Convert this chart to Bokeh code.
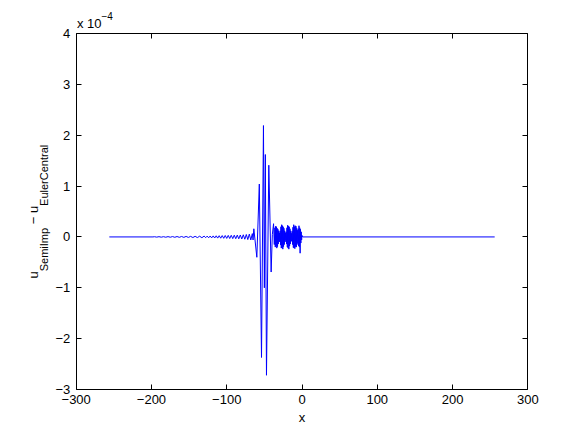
from bokeh.plotting import figure
from bokeh.models import Range1d, FixedTicker, LinearAxis, Label
from bokeh.embed import file_html
from bokeh.resources import INLINE
import math

# ---- data (y in units of 1e-4) ----
flat_left_x = [-256.0, -198.0]
flat_left_y = [0.0, 0.0]

ripple_far_x = [-196, -193, -190, -187, -184, -181, -178, -175, -172, -169, -166, -163,
                -160, -157, -154, -151, -148, -145, -142, -139, -136, -133, -130]
ripple_far_y = [0.004, -0.004, 0.005, -0.005, 0.005, -0.006, 0.006, -0.006, 0.007, -0.007,
                0.008, -0.008, 0.009, -0.009, 0.010, -0.010, 0.011, -0.012, 0.012, -0.013,
                0.014, -0.015, 0.016]

ripple_near_x = [-128, -126, -124, -122, -120, -118, -116, -114, -112, -110, -108, -106,
                 -104, -102, -100, -98, -96, -94, -92, -90, -88, -86, -84, -82, -80, -78,
                 -76, -74, -72, -70, -68, -66]
ripple_near_y = [-0.015, 0.016, -0.017, 0.018, -0.019, 0.020, -0.021, 0.022, -0.023, 0.024,
                 -0.025, 0.026, -0.027, 0.028, -0.029, 0.030, -0.031, 0.032, -0.033, 0.034,
                 -0.035, 0.036, -0.037, 0.038, -0.040, 0.042, -0.045, 0.048, -0.052, 0.056,
                 -0.060, 0.065]

burst_x = [-65.0, -64.0, -60.0, -56.7, -53.8, -51.2, -50.0, -48.7, -47.2, -44.1, -41.0,
           -39.4, -37.8, -36.8]
burst_y = [-0.06, 0.16, -0.40, 1.04, -2.37, 2.19, -1.0, 1.62, -2.72, 1.41, -0.69,
           0.05, 0.26, -0.15]

noise_x = [-36.0, -35.5, -35.0, -34.5, -34.0, -33.5, -33.0, -32.5, -32.0, -31.5, -31.0,
           -30.5, -30.0, -29.5, -29.0, -28.5, -28.0, -27.5, -27.0, -26.5, -26.0, -25.5,
           -25.0, -24.5, -24.0, -23.5, -23.0, -22.5, -22.0, -21.5, -21.0, -20.5, -20.0,
           -19.5, -19.0, -18.5, -18.0, -17.5, -17.0, -16.5, -16.0, -15.5, -15.0, -14.5,
           -14.0, -13.5, -13.0, -12.5, -12.0, -11.5, -11.0, -10.5, -10.0, -9.5, -9.0,
           -8.5, -8.0, -7.5, -7.0, -6.5, -6.0, -5.5, -5.0, -4.5, -4.0, -3.5, -3.0, -2.5,
           -2.0, -1.5, -1.0, -0.5, 0.0]
noise_y = [0.18, -0.20, 0.21, -0.18, 0.20, -0.22, 0.17, -0.19, 0.15, -0.14, 0.12,
           -0.10, 0.08, -0.09, 0.12, -0.16, 0.20, -0.22, 0.24, -0.21, 0.22, -0.24,
           0.20, -0.19, 0.17, -0.15, 0.12, -0.10, 0.08, -0.07, 0.10, -0.14, 0.18,
           -0.20, 0.23, -0.22, 0.21, -0.24, 0.20, -0.18, 0.16, -0.14, 0.12, -0.09,
           0.07, -0.08, 0.11, -0.15, 0.19, -0.21, 0.24, -0.22, 0.20, -0.23, 0.22,
           -0.19, 0.21, -0.20, 0.17, -0.15, 0.13, -0.12, 0.16, -0.18, 0.22, -0.20, 0.18,
           -0.32, 0.15, -0.12, 0.10, -0.06, 0.03]

flat_right_x = [0.8, 256.0]
flat_right_y = [0.0, 0.0]

x_ticks = [-300, -200, -100, 0, 100, 200, 300]
x_tick_labels = ["\u2212300", "\u2212200", "\u2212100", "0", "100", "200", "300"]
y_ticks = [-3, -2, -1, 0, 1, 2, 3, 4]
y_tick_labels = ["\u22123", "\u22122", "\u22121", "0", "1", "2", "3", "4"]

xs = flat_left_x + ripple_far_x + ripple_near_x + burst_x + noise_x + flat_right_x
ys = flat_left_y + ripple_far_y + ripple_near_y + burst_y + noise_y + flat_right_y

# ---- layout geometry (pixels) ----
W, H = 574, 430
BOX_L, BOX_R, BOX_T, BOX_B = 75.7, 527.3, 33.0, 389.0
X0, X1, Y0, Y1 = -300.0, 300.0, -3.0, 4.0
kx = (X1 - X0) / (BOX_R - BOX_L)
ky = (Y1 - Y0) / (BOX_B - BOX_T)
x_range = Range1d(X0 - BOX_L * kx, X0 + (W - BOX_L) * kx)
y_range = Range1d(Y0 - (H - BOX_B) * ky, Y1 + BOX_T * ky)

FONT = "Liberation Sans"

p = figure(width=W, height=H, output_backend="svg", toolbar_location=None,
           x_range=x_range, y_range=y_range,
           min_border_left=0, min_border_right=0, min_border_top=0, min_border_bottom=0)
p.background_fill_color = "white"
p.border_fill_color = "white"
p.outline_line_color = None
p.xgrid.visible = False
p.ygrid.visible = False

p.line(xs, ys, line_color="#0000ff", line_width=1)

def style_axis(ax, ticks, labels, show_labels=True):
    ax.ticker = FixedTicker(ticks=ticks)
    ax.major_label_overrides = {t: l for t, l in zip(ticks, labels)}
    ax.major_tick_in = 5
    ax.major_tick_out = 0
    ax.minor_tick_line_color = None
    ax.axis_line_color = "black"
    ax.axis_line_width = 1
    ax.major_tick_line_color = "black"
    ax.major_label_text_font = FONT
    ax.major_label_text_color = "black"
    if show_labels:
        ax.major_label_text_font_size = "13px"
    else:
        ax.major_label_text_font_size = "0px"
        ax.major_label_standoff = 0

bottom = p.xaxis[0]
style_axis(bottom, x_ticks, x_tick_labels)
bottom.fixed_location = Y0
bottom.bounds = (X0, X1)
bottom.major_label_standoff = 5
bottom.axis_label = "x"
bottom.axis_label_text_font = FONT
bottom.axis_label_text_font_size = "13px"
bottom.axis_label_text_font_style = "normal"
bottom.axis_label_text_color = "black"
bottom.axis_label_standoff = 3

left = p.yaxis[0]
style_axis(left, y_ticks, y_tick_labels)
left.fixed_location = X0
left.bounds = (Y0, Y1)
left.major_label_standoff = 6

top = LinearAxis(fixed_location=Y1, bounds=(X0, X1))
style_axis(top, x_ticks, [""] * len(x_ticks), show_labels=False)
p.add_layout(top, "above")
right = LinearAxis(fixed_location=X1, bounds=(Y0, Y1))
style_axis(right, y_ticks, [""] * len(y_ticks), show_labels=False)
p.add_layout(right, "right")

# ---- text pieces placed in canvas pixels (anchor sits ~0.37*size above baseline) ----
def lab(text, x, y, size, angle=0.0):
    p.add_layout(Label(x=x, y=y, x_units="canvas", y_units="canvas", text=text,
                       text_font=FONT, text_font_size=size, text_color="black",
                       angle=angle, text_align="left", text_baseline="alphabetic"))

rot = math.pi / 2
MAIN_X = 38.3 - 0.37 * 13
SUB_X = 47.3 - 0.37 * 11
# y-axis label: u_SemiImp - u_EulerCentral
lab("u", MAIN_X, 278.0, "13px", rot)
lab("SemiImp", SUB_X, 270.8, "11px", rot)
lab("\u2212", MAIN_X, 223.8, "13px", rot)
lab("u", MAIN_X, 212.6, "13px", rot)
lab("EulerCentral", SUB_X, 205.4, "11px", rot)

# exponent label
lab("x 10", 76.5, 27.6 - 0.37 * 13, "13px")
lab("\u22124", 101.0, 19.5 - 0.37 * 10, "10px")

open("out.html", "w").write(file_html(p, INLINE))
